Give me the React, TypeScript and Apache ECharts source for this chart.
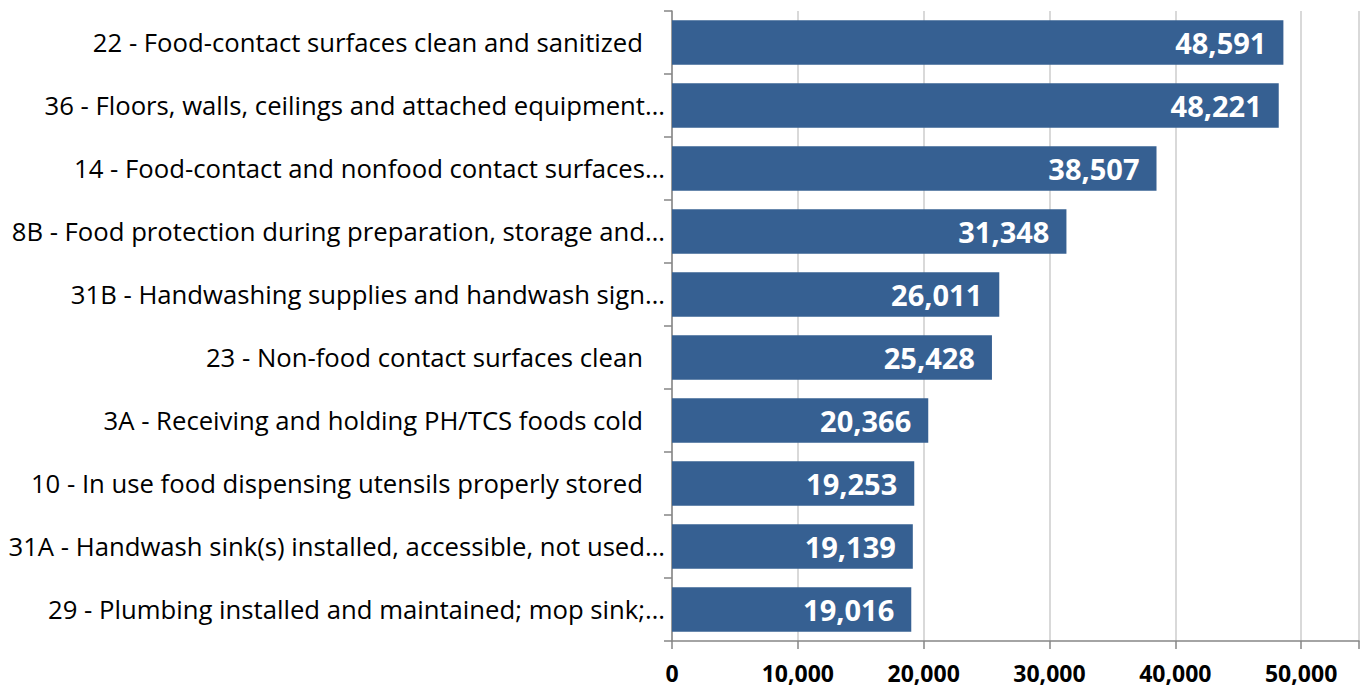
import React, { useEffect, useRef } from "react";
import * as echarts from "echarts";

const categories: string[] = [
  "22 - Food-contact surfaces clean and sanitized",
  "36 - Floors, walls, ceilings and attached equipment…",
  "14 - Food-contact and nonfood contact surfaces…",
  "8B - Food protection during preparation, storage and…",
  "31B - Handwashing supplies and handwash sign…",
  "23 - Non-food contact surfaces clean",
  "3A - Receiving and holding PH/TCS foods cold",
  "10 - In use food dispensing utensils properly stored",
  "31A - Handwash sink(s) installed, accessible, not used…",
  "29 - Plumbing installed and maintained; mop sink;…",
];
const values: number[] = [48591, 48221, 38507, 31348, 26011, 25428, 20366, 19253, 19139, 19016];
const xTicks: number[] = [0, 10000, 20000, 30000, 40000, 50000];

const FONT = "'Open Sans', 'Noto Sans', sans-serif";
const fmt = (v: number) => v.toLocaleString("en-US");

export default function App() {
  const ref = useRef<HTMLDivElement>(null);
  useEffect(() => {
    if (!ref.current) return;
    const chart = echarts.init(ref.current, undefined, { renderer: "svg" });
    chart.setOption({
      animation: false,
      backgroundColor: "#ffffff",
      grid: { left: 672, right: 0, top: 11, bottom: 47, containLabel: false },
      xAxis: {
        type: "value",
        min: 0,
        max: 54600,
        interval: 10000,
        axisLine: { show: true, lineStyle: { color: "#868686", width: 1.5 } },
        axisTick: {
          show: true,
          length: 8,
          lineStyle: { color: "#868686", width: 1.5 },
        },
        splitLine: { show: true, lineStyle: { color: "#d9d9d9", width: 2 } },
        axisLabel: {
          margin: 22,
          color: "#000000",
          fontFamily: FONT,
          fontWeight: "bold",
          fontSize: 23,
          lineHeight: 20,
          formatter: (v: number) => (xTicks.includes(v) ? fmt(v) : ""),
        },
      },
      yAxis: {
        type: "category",
        inverse: true,
        data: categories,
        axisLine: { show: true, lineStyle: { color: "#868686", width: 1.5 } },
        axisTick: { show: true, length: 8, lineStyle: { color: "#868686", width: 1.5 } },
        splitLine: { show: false },
        axisLabel: {
          margin: 7,
          color: "#000000",
          fontFamily: FONT,
          fontSize: 25.7,
          formatter: (v: string) => (v.endsWith("…") ? `{t|${v}}` : `{f|${v}}`),
          rich: {
            t: { fontFamily: FONT, fontSize: 25.7, color: "#000000" },
            f: { fontFamily: FONT, fontSize: 25.7, color: "#000000", padding: [0, 22, 0, 0] },
          },
        },
      },
      series: [
        {
          type: "bar",
          data: values,
          barCategoryGap: "29%",
          itemStyle: { color: "#366092" },
          label: {
            show: true,
            position: "insideRight",
            distance: 17,
            color: "#ffffff",
            fontFamily: FONT,
            fontWeight: "bold",
            fontSize: 29,
            formatter: (p: any) => fmt(p.value),
          },
        },
      ],
    });
    return () => chart.dispose();
  }, []);
  return (
    <div
      ref={ref}
      style={{ position: "absolute", left: 0, top: 0, width: 1362, height: 688 }}
    />
  );
}
